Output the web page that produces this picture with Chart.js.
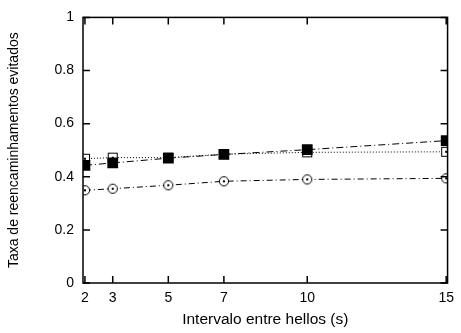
<!DOCTYPE html>
<html lang="pt">
<head>
<meta charset="UTF-8">
<title>Taxa de reencaminhamentos evitados</title>
<script src="https://cdn.jsdelivr.net/npm/chart.js"></script>
<style>
    body {
        margin: 0;
        background-color: white;
    }
    .chart-container {
        width: 461px;
        height: 333px;
    }
</style>
</head>
<body>
<div class="chart-container">
    <canvas id="hellosChart" width="461" height="333"></canvas>
</div>

<script>
    const intervals = [2, 3, 5, 7, 10, 15];
    const filledSquares = [0.443, 0.452, 0.470, 0.484, 0.502, 0.536];
    const openSquares = [0.468, 0.472, 0.472, 0.485, 0.492, 0.494];
    const openCircles = [0.349, 0.355, 0.368, 0.383, 0.390, 0.394];
    const xTicks = [2, 3, 5, 7, 10, 15];
    const yTicks = [0, 0.2, 0.4, 0.6, 0.8, 1];

    const font = 'Arial, "Liberation Sans", sans-serif';

    // small marker images: hollow square / circle with a dot in the middle
    function makeMarker(kind) {
        const c = document.createElement('canvas');
        c.width = 12;
        c.height = 12;
        const ctx = c.getContext('2d');
        ctx.strokeStyle = 'black';
        ctx.fillStyle = 'white';
        ctx.lineWidth = 1;
        if (kind === 'square') {
            ctx.fillRect(1.5, 1.5, 9, 9);
            ctx.strokeRect(1.5, 1.5, 9, 9);
        } else {
            ctx.beginPath();
            ctx.arc(6, 6, 4.6, 0, Math.PI * 2);
            ctx.fill();
            ctx.stroke();
        }
        ctx.fillStyle = 'black';
        ctx.fillRect(5, 5, 2, 2);
        return c;
    }

    function toPoints(values) {
        return intervals.map((x, i) => ({ x: x, y: values[i] }));
    }

    // frame plus inward ticks on all four sides
    const frame = {
        id: 'frame',
        afterDraw(chart) {
            const ctx = chart.ctx;
            const a = chart.chartArea;
            const xs = chart.scales.x;
            const ys = chart.scales.y;
            const len = 7;
            ctx.save();
            ctx.strokeStyle = 'black';
            ctx.lineWidth = 1.5;
            ctx.beginPath();
            xTicks.forEach(v => {
                const px = xs.getPixelForValue(v);
                ctx.moveTo(px, a.bottom);
                ctx.lineTo(px, a.bottom - len);
                ctx.moveTo(px, a.top);
                ctx.lineTo(px, a.top + len);
            });
            yTicks.forEach(v => {
                const py = ys.getPixelForValue(v);
                ctx.moveTo(a.left, py);
                ctx.lineTo(a.left + len, py);
                ctx.moveTo(a.right, py);
                ctx.lineTo(a.right - len, py);
            });
            ctx.stroke();
            ctx.strokeRect(a.left, a.top, a.right - a.left, a.bottom - a.top);
            ctx.restore();
        }
    };

    new Chart(document.getElementById('hellosChart'), {
        type: 'scatter',
        data: {
            datasets: [
                {
                    label: 'filled',
                    data: toPoints(filledSquares),
                    showLine: true,
                    borderColor: 'black',
                    borderWidth: 1,
                    borderDash: [7, 3, 1, 3],
                    pointStyle: 'rect',
                    pointRadius: 7.6,
                    pointBackgroundColor: 'black',
                    pointBorderColor: 'black',
                    pointBorderWidth: 0
                },
                {
                    label: 'open',
                    data: toPoints(openSquares),
                    showLine: true,
                    borderColor: 'black',
                    borderWidth: 1,
                    borderDash: [1, 2],
                    pointStyle: makeMarker('square')
                },
                {
                    label: 'circles',
                    data: toPoints(openCircles),
                    showLine: true,
                    borderColor: 'black',
                    borderWidth: 1,
                    borderDash: [6, 3, 1, 3],
                    pointStyle: makeMarker('circle')
                }
            ]
        },
        options: {
            responsive: false,
            animation: false,
            layout: { padding: { left: 0, right: 8, top: 14, bottom: 0 } },
            plugins: {
                legend: { display: false },
                tooltip: { enabled: false }
            },
            scales: {
                x: {
                    type: 'linear',
                    min: 1.93,
                    max: 15.05,
                    afterBuildTicks: s => { s.ticks = xTicks.map(v => ({ value: v })); },
                    afterFit: s => { s.height = 50; },
                    grid: { display: false, drawTicks: false },
                    border: { display: false },
                    ticks: {
                        color: 'black',
                        padding: 7,
                        maxRotation: 0,
                        font: { family: font, size: 14 }
                    },
                    title: {
                        display: true,
                        text: 'Intervalo entre hellos (s)',
                        color: 'black',
                        padding: { top: 2, bottom: 4 },
                        font: { family: font, size: 15.5 }
                    }
                },
                y: {
                    min: 0,
                    max: 1,
                    afterBuildTicks: s => { s.ticks = yTicks.map(v => ({ value: v })); },
                    afterFit: s => { s.width = 83; },
                    grid: { display: false, drawTicks: false },
                    border: { display: false },
                    ticks: {
                        color: 'black',
                        padding: 9,
                        font: { family: font, size: 14 },
                        callback: v => String(v)
                    },
                    title: {
                        display: true,
                        text: 'Taxa de reencaminhamentos evitados',
                        color: 'black',
                        padding: { top: 6, bottom: 0 },
                        font: { family: font, size: 14 }
                    }
                }
            }
        },
        plugins: [frame]
    });
</script>
</body>
</html>
